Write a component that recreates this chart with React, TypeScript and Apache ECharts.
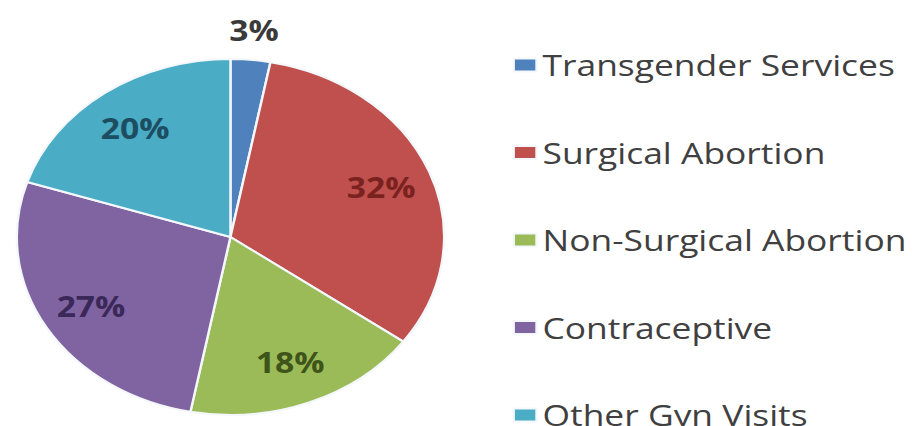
import React, { useEffect, useRef } from "react";
import * as echarts from "echarts";

const categories = [
  "Transgender Services",
  "Surgical Abortion",
  "Non-Surgical Abortion",
  "Contraceptive",
  "Other Gyn Visits",
];
const values = [3, 32, 18, 27, 20];
const sliceColors = ["#4F81BD", "#C0504D", "#9BBB59", "#8064A2", "#4BACC6"];
const labelColors = ["#3a3a3a", "#7a2220", "#3f5418", "#3a2858", "#1c4d60"];
const smallSlices = ["Transgender Services"];

const FONT = "'Open Sans', 'Liberation Sans', sans-serif";
const BASE_W = 764;
const H = 426;

export default function App() {
  const ref = useRef<HTMLDivElement>(null);

  useEffect(() => {
    if (!ref.current) return;
    const chart = echarts.init(ref.current, undefined, { renderer: "svg" });
    const center = [192, 237];
    const R = 178;

    const mainData = categories.map((name, i) => ({
      name,
      value: values[i],
      itemStyle: { color: sliceColors[i] },
    }));

    const innerLabelData = categories.map((name, i) => ({
      name,
      value: values[i],
      label: {
        show: !smallSlices.includes(name),
        color: labelColors[i],
      },
    }));

    const outerLabelData = categories.map((name, i) => ({
      name,
      value: values[i],
      label: {
        show: smallSlices.includes(name),
        color: labelColors[i],
      },
    }));

    const overlayBase = {
      type: "pie" as const,
      center,
      startAngle: 90,
      clockwise: true,
      silent: true,
      legendHoverLink: false,
      itemStyle: { color: "transparent", borderWidth: 0 },
      labelLine: { show: false },
      emphasis: { disabled: true },
    };

    chart.setOption({
      animation: false,
      backgroundColor: "#ffffff",
      legend: {
        orient: "vertical",
        left: 427,
        top: 50,
        height: 500,
        padding: 0,
        icon: "rect",
        itemWidth: 19,
        itemHeight: 13,
        itemGap: 57.5,
        data: categories,
        textStyle: {
          fontFamily: FONT,
          fontSize: 29.5,
          color: "#404040",
        },
      },
      series: [
        {
          type: "pie",
          center,
          radius: R,
          startAngle: 90,
          clockwise: true,
          data: mainData,
          itemStyle: { borderColor: "#f4f8fc", borderWidth: 2 },
          label: { show: false },
          labelLine: { show: false },
          emphasis: { disabled: true },
        },
        {
          ...overlayBase,
          radius: [86, R],
          data: innerLabelData,
          label: {
            position: "inside",
            formatter: "{c}%",
            fontFamily: FONT,
            fontSize: 28,
            fontWeight: "bold",
          },
        },
        {
          ...overlayBase,
          radius: [190, 220],
          data: outerLabelData,
          label: {
            position: "inside",
            formatter: "{c}%",
            fontFamily: FONT,
            fontSize: 28,
            fontWeight: "bold",
          },
        },
      ],
    });

    return () => chart.dispose();
  }, []);

  return (
    <div
      style={{
        position: "fixed",
        left: 0,
        top: 0,
        width: BASE_W,
        height: H,
        transform: `scaleX(${917 / BASE_W})`,
        transformOrigin: "0 0",
        background: "#fff",
      }}
    >
      <div ref={ref} style={{ width: BASE_W, height: H }} />
    </div>
  );
}
